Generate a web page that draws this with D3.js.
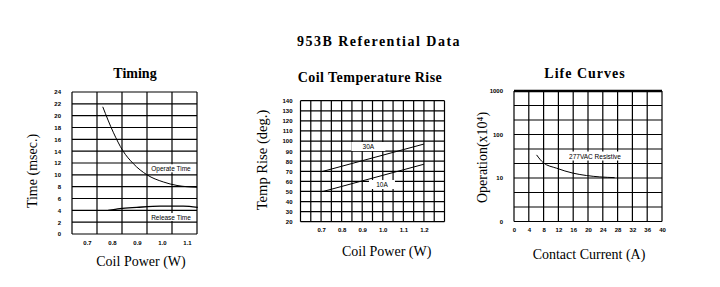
<!DOCTYPE html>
<html>
<head>
<meta charset="utf-8">
<script src="https://cdn.jsdelivr.net/npm/d3@7"></script>
<style>
  body { margin: 0; background: #fff; }
  svg { display: block; }
  .tick-label { font-family: "Liberation Sans", Arial, sans-serif; font-size: 6px; font-weight: bold; fill: #000; }
  .axis-title { font-family: "Liberation Serif", "Times New Roman", serif; font-size: 14px; fill: #000; }
  .chart-title { font-family: "Liberation Serif", "Times New Roman", serif; font-size: 14px; font-weight: bold; fill: #000; }
  .note { font-family: "Liberation Sans", Arial, sans-serif; font-size: 6.5px; fill: #000; }
</style>
</head>
<body>
<script>
// Timing chart data
const timingTicksX = [0.7, 0.8, 0.9, 1.0, 1.1];
const timingTicksY = [0, 2, 4, 6, 8, 10, 12, 14, 16, 18, 20, 22, 24];
const timingGridX = [0.64, 0.74, 0.84, 0.94, 1.04, 1.14];
const operateX = [0.763, 0.805, 0.843, 0.885, 0.94, 1.005, 1.06, 1.14];
const operateY = [21.5, 17.2, 14.1, 11.9, 10.0, 8.8, 8.2, 7.9];
const releaseX = [0.785, 0.832, 0.899, 0.992, 1.085, 1.143];
const releaseY = [4.0, 4.3, 4.5, 4.7, 4.7, 4.5];

// Coil temperature rise data
const tempTicksX = [0.7, 0.8, 0.9, 1.0, 1.1, 1.2];
const tempTicksY = [20, 30, 40, 50, 60, 70, 80, 90, 100, 110, 120, 130, 140];
const tempGridX = [0.6, 0.65, 0.7, 0.75, 0.8, 0.85, 0.9, 0.95, 1.0, 1.05, 1.1, 1.15, 1.2, 1.25, 1.3];
const hiCurrentX = [0.71, 1.2];
const hiCurrentY = [70, 97];
const loCurrentX = [0.71, 1.2];
const loCurrentY = [50, 77];

// Life curve data
const lifeTicksX = [0, 4, 8, 12, 16, 20, 24, 28, 32, 36, 40];
const lifeTicksY = [1, 10, 100, 1000];
const lifeTickLabels = ['0', '10', '100', '1000'];
const lifeX = [6.1, 7.9, 11.5, 16.0, 19.6, 23.2, 27.2];
const lifeY = [34, 22.5, 16.8, 12.9, 11.4, 10.6, 10.2];

const svg = d3.select('body').append('svg')
  .attr('width', 720)
  .attr('height', 287);

svg.append('rect').attr('width', 720).attr('height', 287).attr('fill', '#fff');

svg.append('text')
  .attr('class', 'chart-title')
  .attr('x', 379).attr('y', 45.5)
  .attr('text-anchor', 'middle')
  .style('letter-spacing', '1.5px')
  .text('953B Referential Data');

// draw a grid box from scales
function drawGrid(g, x, y, gridX, gridY) {
  const [x0, x1] = x.range();
  const [yb, yt] = y.range();
  g.selectAll('.vgrid').data(gridX).enter().append('line')
    .attr('x1', d => x(d)).attr('x2', d => x(d))
    .attr('y1', yt).attr('y2', yb)
    .attr('stroke', '#000').attr('stroke-width', 1.2);
  g.selectAll('.hgrid').data(gridY).enter().append('line')
    .attr('x1', x0).attr('x2', x1)
    .attr('y1', d => y(d)).attr('y2', d => y(d))
    .attr('stroke', '#000').attr('stroke-width', 1.2);
}

function styleAxis(sel) {
  sel.select('.domain').remove();
  sel.selectAll('line').remove();
  sel.selectAll('text').attr('class', 'tick-label').attr('fill', null);
  sel.attr('font-size', null).attr('font-family', null);
}

function addLabel(g, cx, cy, w, h, text) {
  g.append('rect')
    .attr('x', cx - w / 2).attr('y', cy - h / 2)
    .attr('width', w).attr('height', h)
    .attr('fill', '#fff');
  g.append('text')
    .attr('class', 'note')
    .attr('x', cx).attr('y', cy)
    .attr('text-anchor', 'middle')
    .attr('dominant-baseline', 'central')
    .text(text);
}

const line = d3.line().curve(d3.curveMonotoneX);

// ---- Timing ----
{
  const g = svg.append('g');
  const x = d3.scaleLinear().domain([0.64, 1.14]).range([72, 197]);
  const y = d3.scaleLinear().domain([0, 24]).range([234, 92]);
  drawGrid(g, x, y, timingGridX, timingTicksY);

  g.append('g').attr('transform', 'translate(72,0)')
    .call(d3.axisLeft(y).tickValues(timingTicksY).tickSize(0).tickPadding(11))
    .call(styleAxis);
  g.append('g').attr('transform', 'translate(0,234)')
    .call(d3.axisBottom(x).tickValues(timingTicksX).tickFormat(d3.format('.1f')).tickSize(0).tickPadding(6.5))
    .call(styleAxis);

  addLabel(g, x(1.036), y(11.1), 46, 8, 'Operate Time');
  addLabel(g, x(1.036), y(2.87), 46, 8, 'Release Time');

  g.append('path')
    .attr('d', line(operateX.map((v, i) => [x(v), y(operateY[i])])))
    .attr('fill', 'none').attr('stroke', '#000').attr('stroke-width', 1);
  g.append('path')
    .attr('d', line(releaseX.map((v, i) => [x(v), y(releaseY[i])])))
    .attr('fill', 'none').attr('stroke', '#000').attr('stroke-width', 1.3);

  g.append('text').attr('class', 'chart-title')
    .attr('x', 135).attr('y', 77.5).attr('text-anchor', 'middle').text('Timing');
  g.append('text').attr('class', 'axis-title')
    .attr('transform', 'translate(32.5,171) rotate(-90)')
    .attr('text-anchor', 'middle').attr('dominant-baseline', 'central')
    .text('Time (msec.)');
  g.append('text').attr('class', 'axis-title')
    .attr('x', 141).attr('y', 266).attr('text-anchor', 'middle')
    .text('Coil Power (W)');
}

// ---- Coil Temperature Rise ----
{
  const g = svg.append('g');
  const x = d3.scaleLinear().domain([0.6, 1.3]).range([300.5, 444.5]);
  const y = d3.scaleLinear().domain([20, 140]).range([221.7, 100.7]);
  drawGrid(g, x, y, tempGridX, tempTicksY);

  g.append('g').attr('transform', 'translate(300.5,0)')
    .call(d3.axisLeft(y).tickValues(tempTicksY).tickSize(0).tickPadding(8))
    .call(styleAxis);
  g.append('g').attr('transform', 'translate(0,221.7)')
    .call(d3.axisBottom(x).tickValues(tempTicksX).tickFormat(d3.format('.1f')).tickSize(0).tickPadding(6.5))
    .call(styleAxis);

  addLabel(g, x(0.93), y(94.6), 34, 9, '30A');
  addLabel(g, x(0.996), y(56.9), 26, 9, '10A');

  g.append('path')
    .attr('d', d3.line()(hiCurrentX.map((v, i) => [x(v), y(hiCurrentY[i])])))
    .attr('fill', 'none').attr('stroke', '#000').attr('stroke-width', 1);
  g.append('path')
    .attr('d', d3.line()(loCurrentX.map((v, i) => [x(v), y(loCurrentY[i])])))
    .attr('fill', 'none').attr('stroke', '#000').attr('stroke-width', 1);

  g.append('text').attr('class', 'chart-title')
    .attr('x', 370).attr('y', 81.5).attr('text-anchor', 'middle')
    .style('letter-spacing', '0.45px')
    .text('Coil Temperature Rise');
  g.append('text').attr('class', 'axis-title')
    .attr('transform', 'translate(261.5,160) rotate(-90)')
    .attr('text-anchor', 'middle').attr('dominant-baseline', 'central')
    .style('font-size', '14.6px')
    .text('Temp Rise (deg.)');
  g.append('text').attr('class', 'axis-title')
    .attr('x', 386.7).attr('y', 255.5).attr('text-anchor', 'middle')
    .text('Coil Power (W)');
}

// ---- Life Curves ----
{
  const g = svg.append('g');
  const x = d3.scaleLinear().domain([0, 40]).range([514, 662]);
  const y = d3.scaleLog().domain([1, 1000]).range([221.5, 91]);
  const gridY = d3.range(10).map(k => Math.pow(10, k / 3));
  drawGrid(g, x, y, lifeTicksX, gridY);

  // heavy top border
  g.append('line')
    .attr('x1', x(0)).attr('x2', x(40))
    .attr('y1', y(1000)).attr('y2', y(1000))
    .attr('stroke', '#000').attr('stroke-width', 2.6);

  g.append('g').attr('transform', 'translate(514,0)')
    .call(d3.axisLeft(y).tickValues(lifeTicksY).tickFormat((d, i) => lifeTickLabels[i]).tickSize(0).tickPadding(11))
    .call(styleAxis);
  g.append('g').attr('transform', 'translate(0,221.5)')
    .call(d3.axisBottom(x).tickValues(lifeTicksX).tickSize(0).tickPadding(6.5))
    .call(styleAxis);

  addLabel(g, x(21.9), y(32), 54, 9, '277VAC Resistive');

  g.append('path')
    .attr('d', line(lifeX.map((v, i) => [x(v), y(lifeY[i])])))
    .attr('fill', 'none').attr('stroke', '#000').attr('stroke-width', 1);

  g.append('text').attr('class', 'chart-title')
    .attr('x', 585).attr('y', 77.5).attr('text-anchor', 'middle')
    .style('letter-spacing', '1px')
    .text('Life Curves');
  g.append('text').attr('class', 'axis-title')
    .attr('transform', 'translate(482.5,157.5) rotate(-90)')
    .attr('text-anchor', 'middle').attr('dominant-baseline', 'central')
    .text('Operation(x10⁴)');
  g.append('text').attr('class', 'axis-title')
    .attr('x', 589).attr('y', 258.5).attr('text-anchor', 'middle')
    .text('Contact Current (A)');
}
</script>
</body>
</html>
